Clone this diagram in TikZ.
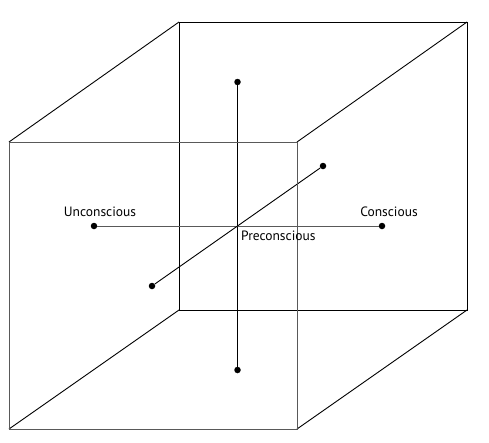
\documentclass[tikz,border=0pt]{standalone}
\usepackage{fontspec}
\setmainfont{PT Sans}
\begin{document}
\begin{tikzpicture}[x=1pt,y=-1pt,
  frontline/.style={draw=black!65,line width=1pt},
  backline/.style={draw=black,line width=0.9pt},
  axisline/.style={draw=black,line width=0.9pt},
  dot/.style={circle,fill=black,inner sep=0pt,minimum size=6.5pt},
  lbl/.style={inner sep=0pt,font=\fontsize{13.5}{15}\selectfont}]
\useasboundingbox (0,0) rectangle (489,442);
% cube corners
\coordinate (F1) at (9,142);
\coordinate (F2) at (297,142);
\coordinate (F3) at (297,429);
\coordinate (F4) at (9,429);
\coordinate (B1) at (179,22);
\coordinate (B2) at (467,22);
\coordinate (B3) at (467,310);
\coordinate (B4) at (179,310);
% back face and edges
\draw[backline] (B1) -- (B2) -- (B3) -- (B4) -- cycle;
\draw[backline] (F1) -- (B1) (F2) -- (B2) (F3) -- (B3) (F4) -- (B4);
% axes dots
\node[dot] (top) at (237.5,82) {};
\node[dot] (bot) at (237.5,370) {};
\node[dot] (unc) at (94,226) {};
\node[dot] (con) at (382,226) {};
\node[dot] (up) at (323,166) {};
\node[dot] (low) at (152,286) {};
\draw[axisline] (top) -- (bot);
\draw[frontline] (unc) -- (con);
\draw[axisline] (low) -- (up);
% front face
\draw[frontline] (F1) -- (F2) -- (F3) -- (F4) -- cycle;
% labels
\node[lbl] (tu) at (100,212) {Unconscious};
\node[lbl] (tc) at (389,212) {Conscious};
\node[lbl,anchor=west] (tp) at (241,236) {Preconscious};
\end{tikzpicture}
\end{document}
